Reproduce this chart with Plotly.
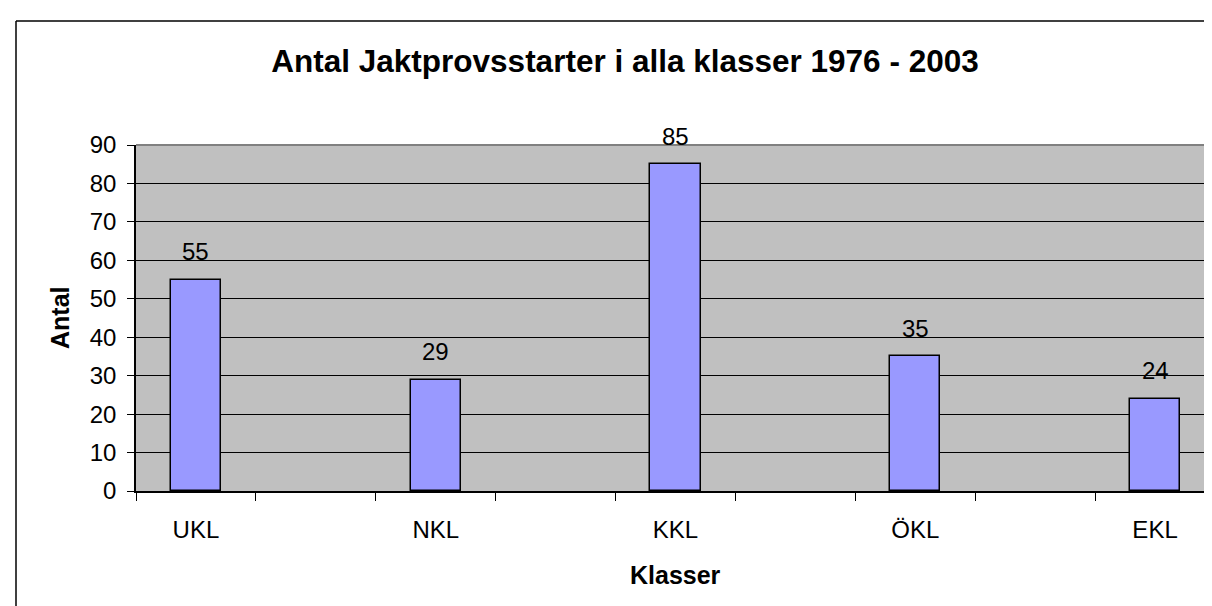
import plotly.graph_objects as go

# ---- data ----
categories = ["UKL", "NKL", "KKL", "ÖKL", "EKL"]
values = [55, 29, 85, 35, 24]
# empty spacer slots between the classes on the category axis
spacers = [" ", "  ", "   ", "    "]
y_ticks = [0, 10, 20, 30, 40, 50, 60, 70, 80, 90]

title_text = "Antal Jaktprovsstarter i alla klasser 1976 - 2003"
x_title = "Klasser"
y_title = "Antal"

# axis order: class, spacer, class, spacer, ...
cat_order = []
for i, c in enumerate(categories):
    cat_order.append(c)
    if i < len(spacers):
        cat_order.append(spacers[i])

W, H = 1212, 606
L, R, T, B = 128, 5, 137, 123
pw, ph = W - L - R, H - T - B

FONT = "Liberation Sans, Arial, sans-serif"

fig = go.Figure()
fig.add_trace(go.Bar(
    x=categories, y=values, width=0.42,
    marker=dict(color="#9999FF", line=dict(color="black", width=1.5)),
    hoverinfo="x+y",
))

annotations = []
for c, v in zip(categories, values):
    annotations.append(dict(x=c, y=v, xref="x", yref="y", text=str(v),
                            showarrow=False, yanchor="middle", yshift=28,
                            font=dict(family=FONT, size=24, color="black")))
annotations.append(dict(x=0.5, y=(483 - 567) / ph, xref="paper", yref="paper",
                        text=f"<b>{x_title}</b>", showarrow=False,
                        xanchor="center", yanchor="middle",
                        font=dict(family=FONT, size=25, color="black")))
annotations.append(dict(x=(52 - L) / pw, y=0.5, xref="paper", yref="paper",
                        text=f"<b>{y_title}</b>", showarrow=False, textangle=-90,
                        xanchor="center", yanchor="middle",
                        font=dict(family=FONT, size=25, color="black")))

def px_x(p):
    return (p - L) / pw

def px_y(p):
    return (H - B - p) / ph

shapes = [
    # plot area border (top and right, gray)
    dict(type="line", xref="paper", yref="paper", x0=0, x1=1, y0=1, y1=1,
         line=dict(color="#808080", width=2), layer="above"),
    dict(type="line", xref="paper", yref="paper", x0=1, x1=1, y0=0, y1=1,
         line=dict(color="#808080", width=2), layer="above"),
    # outer chart border
    dict(type="line", xref="paper", yref="paper", x0=px_x(8), x1=px_x(1230),
         y0=px_y(13), y1=px_y(13), line=dict(color="black", width=1.5)),
    dict(type="line", xref="paper", yref="paper", x0=px_x(8), x1=px_x(8),
         y0=px_y(13), y1=px_y(620), line=dict(color="black", width=1.5)),
]

fig.update_layout(
    width=W, height=H,
    margin=dict(l=L, r=R, t=T, b=B, autoexpand=False),
    paper_bgcolor="white", plot_bgcolor="#C0C0C0",
    showlegend=False,
    title=dict(text=f"<b>{title_text}</b>", x=617 / W, xref="container", xanchor="center",
               y=1 - 53 / H, yref="container", yanchor="middle",
               font=dict(family=FONT, size=31.5, color="black")),
    font=dict(family=FONT, size=24, color="black"),
    annotations=annotations,
    shapes=shapes,
    bargap=0,
)
fig.update_xaxes(
    type="category", categoryorder="array", categoryarray=cat_order,
    range=[-0.5, len(cat_order) - 0.5],
    tickson="boundaries", ticks="outside", ticklen=8, tickwidth=1, tickcolor="black",
    showline=True, linecolor="black", linewidth=1.5, showgrid=False,
    tickfont=dict(family=FONT, size=24, color="black"),
    ticklabelstandoff=16,
    fixedrange=True,
)
fig.update_yaxes(
    range=[0, 90], tickvals=y_ticks, ticks="outside", ticklen=7, tickwidth=1,
    tickcolor="black", showline=True, linecolor="black", linewidth=1.5,
    showgrid=True, gridcolor="black", gridwidth=1, zeroline=False,
    tickfont=dict(family=FONT, size=24, color="black"),
    ticklabelstandoff=6,
    fixedrange=True,
)

fig.write_html("out.html")
